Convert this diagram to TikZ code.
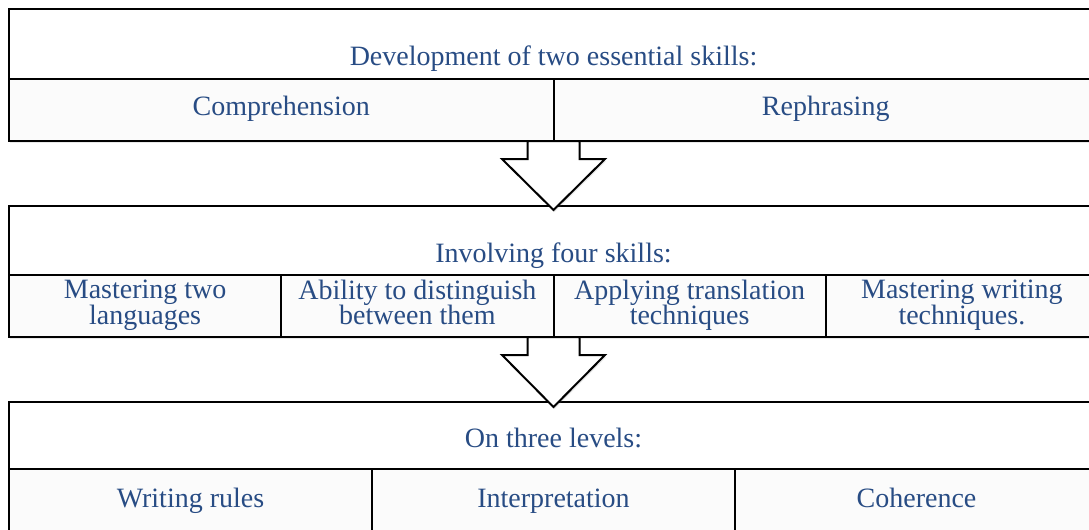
\documentclass[tikz,border=0pt]{standalone}
\usepackage{fontspec}
\setmainfont{Liberation Serif}
\usepackage{tikz}
\usetikzlibrary{positioning,shadows}
\definecolor{skblue}{RGB}{40,76,132}
\tikzset{hbox/.style={rectangle,draw,line width=1pt,fill=white,outer sep=0pt,inner sep=0pt,
		minimum width=544.5pt,drop shadow={opacity=0.18,shadow xshift=0.6pt,shadow yshift=-1pt}},
	 cbox/.style={rectangle,draw,line width=1pt,fill=gray!3,outer sep=0pt,inner sep=0pt,
		minimum height=31pt,align=center,text=skblue,font=\fontsize{14}{12.8}\selectfont,
		execute at begin node=\strut,execute at end node=\strut,
		drop shadow={opacity=0.18,shadow xshift=0.6pt,shadow yshift=-1pt}},
	 htext/.style={text=skblue,font=\fontsize{14}{12.8}\selectfont,anchor=base},
	 barrow/.style={draw,line width=1pt,fill=white,line join=miter,
		drop shadow={opacity=0.18,shadow xshift=0.6pt,shadow yshift=-1pt}},
	 node distance = 32.5pt
	 }

\begin{document}
\begin{tikzpicture} % three stages of the skill chain
	\useasboundingbox (0,0) rectangle (544.5pt,-265pt);
	% first stage
	\node[hbox,minimum height=35pt,anchor=north west,
		label={[htext,yshift=7pt]south:Development of two essential skills:}] (h1) at (4.5pt,-4.5pt) {};
	\node[cbox,minimum width=272.25pt,anchor=north west] (c11) at (h1.south west) {Comprehension};
	\node[cbox,minimum width=272.25pt,right=0pt of c11] (c12) {Rephrasing};
	% second stage
	\node[hbox,minimum height=34.5pt,below=of c11.south west,anchor=north west,
		label={[htext,yshift=6.5pt]south:Involving four skills:}] (h2) {};
	\node[cbox,minimum width=136.125pt,anchor=north west] (c21) at (h2.south west) {Mastering two\\languages};
	\node[cbox,minimum width=136.125pt,right=0pt of c21] (c22) {Ability to distinguish\\between them};
	\node[cbox,minimum width=136.125pt,right=0pt of c22] (c23) {Applying translation\\techniques};
	\node[cbox,minimum width=136.125pt,right=0pt of c23] (c24) {Mastering writing\\techniques.};
	% third stage
	\node[hbox,minimum height=33.5pt,below=of c21.south west,anchor=north west,
		label={[htext,yshift=11pt]south:On three levels:}] (h3) {};
	\node[cbox,minimum width=181.5pt,minimum height=33pt,anchor=north west] (c31) at (h3.south west) {Writing rules};
	\node[cbox,minimum width=181.5pt,minimum height=33pt,right=0pt of c31] (c32) {Interpretation};
	\node[cbox,minimum width=181.5pt,minimum height=33pt,right=0pt of c32] (c33) {Coherence};
	% block arrows between the stages
	\draw[barrow] ([xshift=-13pt]c11.south east) -- ++(0,-9pt) -- ++(-12.75pt,0)
		-- ([yshift=-2pt]h2.north) -- ++(25.75pt,25.5pt) -- ++(-12.75pt,0) -- ++(0,9pt) -- cycle;
	\draw[barrow] ([xshift=-13pt]c22.south east) -- ++(0,-9pt) -- ++(-12.75pt,0)
		-- ([yshift=-2.5pt]h3.north) -- ++(25.75pt,26pt) -- ++(-12.75pt,0) -- ++(0,9pt) -- cycle;
\end{tikzpicture}
\end{document}
